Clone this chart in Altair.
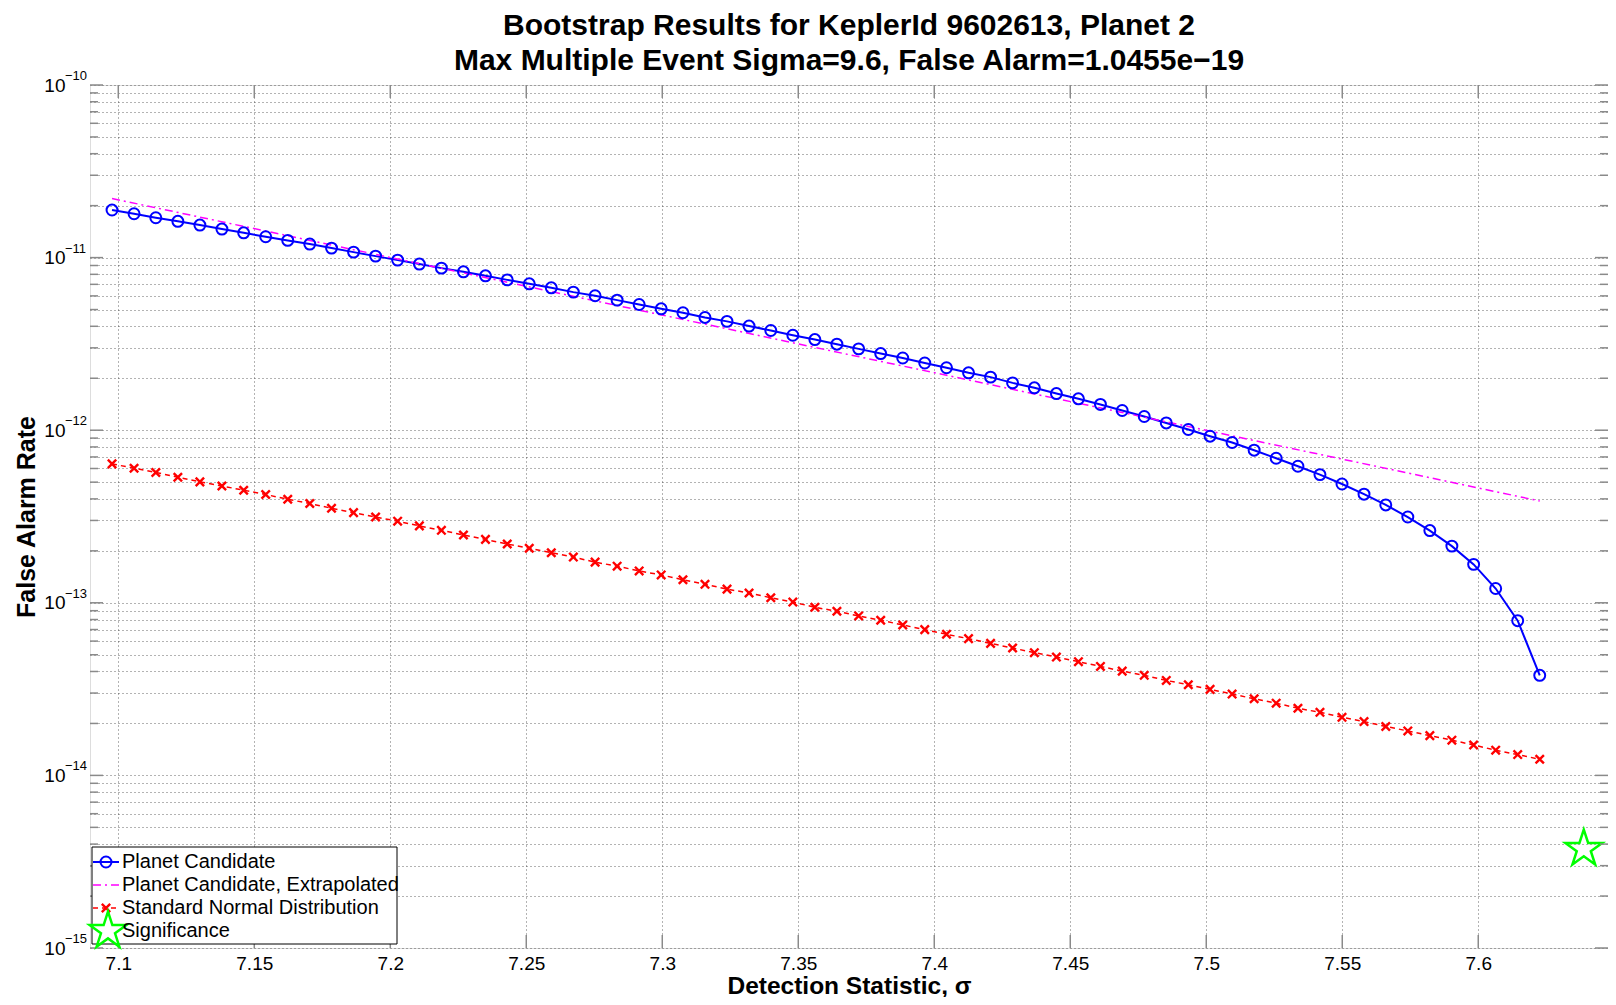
import altair as alt
import pandas as pd

# ---------------- data ----------------
x_vals = [7.0977, 7.1058, 7.1138, 7.1219, 7.1300, 7.1381, 7.1461, 7.1542, 7.1623, 7.1704,
          7.1784, 7.1865, 7.1946, 7.2027, 7.2107, 7.2188, 7.2269, 7.2350, 7.2430, 7.2511,
          7.2592, 7.2673, 7.2753, 7.2834, 7.2915, 7.2996, 7.3076, 7.3157, 7.3238, 7.3319,
          7.3399, 7.3480, 7.3561, 7.3642, 7.3722, 7.3803, 7.3884, 7.3965, 7.4045, 7.4126,
          7.4207, 7.4288, 7.4368, 7.4449, 7.4530, 7.4611, 7.4691, 7.4772, 7.4853, 7.4934,
          7.5014, 7.5095, 7.5176, 7.5257, 7.5337, 7.5418, 7.5499, 7.5580, 7.5660, 7.5741,
          7.5822, 7.5903, 7.5983, 7.6064, 7.6145, 7.6226]

planet_candidate = [1.886e-11, 1.794e-11, 1.701e-11, 1.622e-11, 1.543e-11, 1.463e-11, 1.392e-11, 1.320e-11,
                    1.258e-11, 1.198e-11, 1.135e-11, 1.076e-11, 1.020e-11, 9.67e-12, 9.17e-12, 8.69e-12,
                    8.27e-12, 7.84e-12, 7.43e-12, 7.05e-12, 6.68e-12, 6.31e-12, 6.01e-12, 5.67e-12,
                    5.35e-12, 5.05e-12, 4.79e-12, 4.50e-12, 4.27e-12, 4.01e-12, 3.78e-12, 3.55e-12,
                    3.35e-12, 3.15e-12, 2.96e-12, 2.78e-12, 2.62e-12, 2.45e-12, 2.30e-12, 2.15e-12,
                    2.03e-12, 1.88e-12, 1.76e-12, 1.63e-12, 1.52e-12, 1.41e-12, 1.30e-12, 1.20e-12,
                    1.102e-12, 1.009e-12, 9.23e-13, 8.49e-13, 7.66e-13, 6.88e-13, 6.18e-13, 5.53e-13,
                    4.88e-13, 4.26e-13, 3.69e-13, 3.14e-13, 2.62e-13, 2.13e-13, 1.67e-13, 1.21e-13,
                    7.88e-14, 3.80e-14]

std_normal = [6.38e-13, 6.02e-13, 5.69e-13, 5.34e-13, 5.02e-13, 4.75e-13, 4.49e-13, 4.24e-13,
              3.98e-13, 3.76e-13, 3.53e-13, 3.33e-13, 3.14e-13, 2.97e-13, 2.79e-13, 2.63e-13,
              2.47e-13, 2.33e-13, 2.19e-13, 2.07e-13, 1.95e-13, 1.84e-13, 1.72e-13, 1.63e-13,
              1.53e-13, 1.45e-13, 1.36e-13, 1.28e-13, 1.20e-13, 1.14e-13, 1.07e-13, 1.01e-13,
              9.42e-14, 8.93e-14, 8.39e-14, 7.92e-14, 7.44e-14, 6.99e-14, 6.57e-14, 6.20e-14,
              5.82e-14, 5.47e-14, 5.14e-14, 4.85e-14, 4.56e-14, 4.28e-14, 4.02e-14, 3.80e-14,
              3.55e-14, 3.35e-14, 3.15e-14, 2.96e-14, 2.78e-14, 2.62e-14, 2.45e-14, 2.32e-14,
              2.17e-14, 2.05e-14, 1.92e-14, 1.81e-14, 1.70e-14, 1.60e-14, 1.50e-14, 1.40e-14,
              1.32e-14, 1.24e-14]

extrap_x = [7.0977, 7.6226]
extrap_vals = [2.20e-11, 3.89e-13]

signif_x = [7.6388]
signif_vals = [3.75e-15]

x_ticks = [7.1, 7.15, 7.2, 7.25, 7.3, 7.35, 7.4, 7.45, 7.5, 7.55, 7.6]
decades = [1e-15, 1e-14, 1e-13, 1e-12, 1e-11, 1e-10]
exp_labels = ["\u221215", "\u221214", "\u221213", "\u221212", "\u221211", "\u221210"]
minor_mult = [2, 3, 4, 5, 6, 7, 8, 9]
minor_ticks = [m * d for d in decades[:-1] for m in minor_mult]
y_ticks = sorted(decades + minor_ticks)

title_lines = ["Bootstrap Results for KeplerId 9602613, Planet 2",
               "Max Multiple Event Sigma=9.6, False Alarm=1.0455e\u221219"]
legend_labels = ["Planet Candidate", "Planet Candidate, Extrapolated",
                 "Standard Normal Distribution", "Significance"]

# ---------------- layout / style ----------------
W, H = 1518, 863
FONT = "Liberation Sans"
FRAME = "#8a8a8a"

df_pc = pd.DataFrame({"x": x_vals, "y": planet_candidate})
df_sn = pd.DataFrame({"x": x_vals, "y": std_normal})
df_ex = pd.DataFrame({"x": extrap_x, "y": extrap_vals})
df_sg = pd.DataFrame({"x": signif_x, "y": signif_vals})
df_dec = pd.DataFrame({"y": decades, "lab": exp_labels})
df_minor = pd.DataFrame({"y": minor_ticks})
df_xt = pd.DataFrame({"x": x_ticks})

xs = alt.Scale(domain=[7.0896, 7.6477], nice=False, zero=False)
ys = alt.Scale(type="log", domain=[1e-15, 1e-10], nice=False)

grid_kw = dict(grid=True, gridDash=[1, 3], gridColor="#333333", gridOpacity=0.75, gridWidth=1,
               ticks=False, domain=False, labelFont=FONT, labelColor="black",
               labelOverlap=False, labelFlush=False,
               titleFont=FONT, titleColor="black", titleFontWeight="bold")

x_axis = alt.Axis(values=x_ticks, format=".2~f", title="Detection Statistic, \u03c3",
                  labelFontSize=19, labelPadding=6, titleFontSize=24.5,
                  titleX=W / 2, titleY=38, titleBaseline="middle", **grid_kw)
y_axis = alt.Axis(values=y_ticks,
                  labelExpr="abs(log(datum.value)/LN10 - round(log(datum.value)/LN10)) < 0.001 ? '10' : ''",
                  title="False Alarm Rate", labelFontSize=19, labelPadding=25, titleFontSize=25,
                  titleX=-64, titleY=H / 2, titleBaseline="middle", titleAngle=270, **grid_kw)

X = alt.X("x:Q", scale=xs, axis=x_axis)
Y = alt.Y("y:Q", scale=ys, axis=y_axis)

pc_line = alt.Chart(df_pc).mark_line(color="#0000ff", strokeWidth=2).encode(x=X, y=Y)
pc_pts = alt.Chart(df_pc).mark_point(shape="circle", filled=False, color="#0000ff",
                                     strokeWidth=2, size=120, opacity=1).encode(x=X, y=Y)
ex_line = alt.Chart(df_ex).mark_line(color="#ff00ff", strokeWidth=1.5,
                                     strokeDash=[8, 4, 2, 4]).encode(x=X, y=Y)
sn_line = alt.Chart(df_sn).mark_line(color="#ff0000", strokeWidth=1.5,
                                     strokeDash=[5, 4]).encode(x=X, y=Y)
XPATH = "M-1,-1L1,1M-1,1L1,-1"
STAR = ("M0,-1L0.2245,-0.309L0.9511,-0.309L0.3633,0.118L0.5878,0.809L0,0.382"
        "L-0.5878,0.809L-0.3633,0.118L-0.9511,-0.309L-0.2245,-0.309Z")
sn_pts = alt.Chart(df_sn).mark_point(shape=XPATH, filled=False, stroke="#ff0000",
                                     strokeWidth=2.4, size=70, opacity=1).encode(x=X, y=Y)
sg_pt = alt.Chart(df_sg).mark_point(shape=STAR, filled=False, stroke="#00ff00",
                                    strokeWidth=2.5, size=1500, opacity=1).encode(x=X, y=Y)

# inward tick marks (MATLAB box style)
tick_kw = dict(color=FRAME, strokeWidth=1.5)
tk = [
    alt.Chart(df_dec).mark_rule(**tick_kw).encode(y=Y, x=alt.value(0), x2=alt.value(13)),
    alt.Chart(df_dec).mark_rule(**tick_kw).encode(y=Y, x=alt.value(W), x2=alt.value(W - 13)),
    alt.Chart(df_minor).mark_rule(**tick_kw).encode(y=Y, x=alt.value(0), x2=alt.value(8)),
    alt.Chart(df_minor).mark_rule(**tick_kw).encode(y=Y, x=alt.value(W), x2=alt.value(W - 8)),
    alt.Chart(df_xt).mark_rule(**tick_kw).encode(x=X, y=alt.value(H), y2=alt.value(H - 13)),
    alt.Chart(df_xt).mark_rule(**tick_kw).encode(x=X, y=alt.value(0), y2=alt.value(13)),
]

# superscript exponents of the y tick labels
exps = alt.Chart(df_dec).mark_text(align="left", baseline="middle", font=FONT, fontSize=13,
                                   color="black", dy=-9).encode(y=Y, x=alt.value(-25), text="lab:N")

# legend (drawn by hand, MATLAB style)
one = alt.Data(values=[{"a": 1}])
LX0, LX1, LM, LT = 3, 29, 16, 32
rows = [777, 800, 823, 846]
leg = [
    alt.Chart(one).mark_rect(fill="white", stroke="black", strokeWidth=1).encode(
        x=alt.value(2), x2=alt.value(307), y=alt.value(762), y2=alt.value(859)),
    alt.Chart(one).mark_rule(color="#0000ff", strokeWidth=2).encode(
        x=alt.value(LX0), x2=alt.value(LX1), y=alt.value(rows[0])),
    alt.Chart(one).mark_point(shape="circle", filled=False, color="#0000ff", strokeWidth=2,
                              size=120, opacity=1).encode(x=alt.value(LM), y=alt.value(rows[0])),
    alt.Chart(one).mark_rule(color="#ff00ff", strokeWidth=1.5, strokeDash=[8, 4, 2, 4]).encode(
        x=alt.value(LX0), x2=alt.value(LX1), y=alt.value(rows[1])),
    alt.Chart(one).mark_rule(color="#ff0000", strokeWidth=1.5, strokeDash=[5, 4]).encode(
        x=alt.value(LX0), x2=alt.value(LX1), y=alt.value(rows[2])),
    alt.Chart(one).mark_point(shape=XPATH, filled=False, stroke="#ff0000", strokeWidth=2.4,
                              size=70, opacity=1).encode(x=alt.value(LM), y=alt.value(rows[2])),
    alt.Chart(one).mark_point(shape=STAR, filled=False, stroke="#00ff00", strokeWidth=2.5,
                              size=1500, opacity=1).encode(x=alt.value(18), y=alt.value(rows[3])),
]
for lab, ry in zip(legend_labels, rows):
    leg.append(alt.Chart(one).mark_text(align="left", baseline="middle", font=FONT, fontSize=20,
                                        color="black").encode(
        x=alt.value(LT), y=alt.value(ry), text=alt.value(lab)))

chart = alt.layer(
    pc_line, ex_line, sn_line, pc_pts, sn_pts, sg_pt, *tk, exps, *leg
).properties(
    width=W, height=H,
    title=alt.TitleParams(text=title_lines, font=FONT, fontSize=30, fontWeight="bold",
                          color="black", anchor="middle", lineHeight=35, offset=10, dy=16),
    autosize=alt.AutoSizeParams(type="none"),
    padding={"left": 82, "top": 77, "right": 0, "bottom": 49},
).configure_view(stroke=FRAME, strokeWidth=2).configure(background="white")

chart.save("out.html", embed_options={"renderer": "svg", "actions": False})
